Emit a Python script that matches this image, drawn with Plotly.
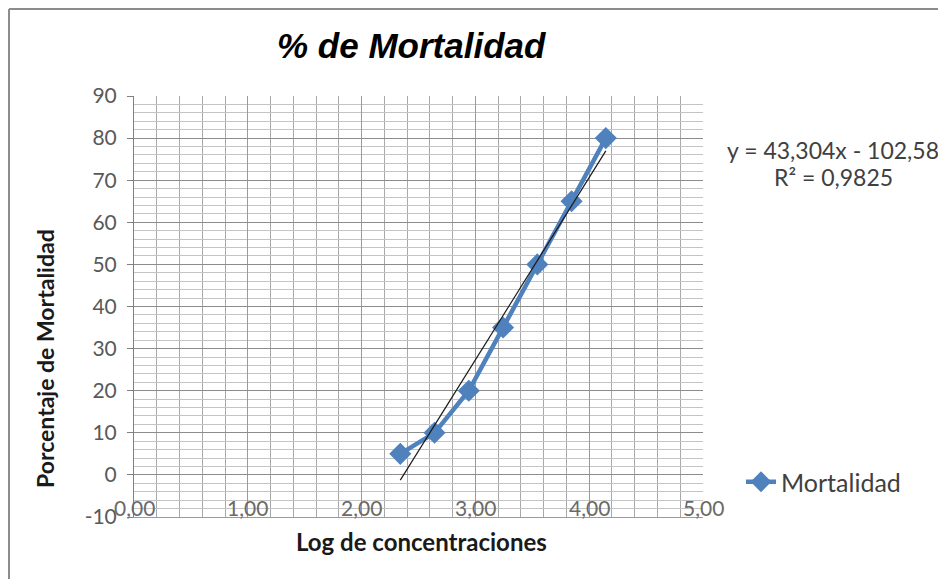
import numpy as np
import plotly.graph_objects as go

# Data
log_conc = [2.340, 2.641, 2.942, 3.243, 3.544, 3.845, 4.146]
mortalidad = [5, 10, 20, 35, 50, 65, 80]
x_ticks = [0, 1, 2, 3, 4, 5]
x_tick_labels = ["0,00", "1,00", "2,00", "3,00", "4,00", "5,00"]
y_ticks = [-10, 0, 10, 20, 30, 40, 50, 60, 70, 80, 90]
y_tick_labels = ["-10", "0", "10", "20", "30", "40", "50", "60", "70", "80", "90"]
equation_text = "y = 43,304x - 102,58"
r2_text = "R² = 0,9825"

blue = "#4F81BD"
font_family = "Lato, Open Sans, sans-serif"

slope, intercept = np.polyfit(log_conc, mortalidad, 1)
trend_x = [log_conc[0], log_conc[-1]]
trend_y = [slope * v + intercept for v in trend_x]

fig = go.Figure()
fig.add_trace(go.Scatter(
    x=log_conc, y=mortalidad, mode="lines+markers", name="Mortalidad",
    line=dict(color=blue, width=4.5),
    marker=dict(symbol="diamond", size=17, color=blue),
))
fig.add_trace(go.Scatter(
    x=trend_x, y=trend_y, mode="lines", showlegend=False,
    line=dict(color="#1a1a1a", width=1.2), hoverinfo="skip",
))

# page body adds an 8px margin; work in reference pixels minus that offset
OFF = 8
W, H = 946 - OFF, 579 - OFF
L, T = 134 - OFF, 96 - OFF
R, B = W - (703 - OFF), H - (517 - OFF)
pw, ph = W - L - R, H - T - B

def px(xp):
    return (xp - OFF - L) / pw

def py(yp):
    return (H - B - (yp - OFF)) / ph

def note(text, x, y, size, color, angle=0, family=None):
    f = dict(size=size, color=color)
    if family:
        f["family"] = family
    return dict(text=text, x=px(x), y=py(y), xref="paper", yref="paper",
                xanchor="center", yanchor="middle", showarrow=False,
                textangle=angle, font=f)

annotations = [
    note("<b><i>% de Mortalidad</i></b>", 411, 45, 35, "#000000",
         family="Liberation Sans, Arial, sans-serif"),
    note("<b>Porcentaje de Mortalidad</b>", 45, 359, 23, "#1a1a1a", angle=-90),
    note("<b>Log de concentraciones</b>", 421, 541, 24, "#1a1a1a"),
    note(equation_text, 833, 150, 23, "#404040"),
    note(r2_text, 833, 177, 23, "#404040"),
]
for tv, tl in zip(x_ticks, x_tick_labels):
    annotations.append(dict(
        text=tl, x=tv, y=y_ticks[0], xref="x", yref="y",
        xanchor="center", yanchor="bottom", yshift=-5, showarrow=False,
        font=dict(size=21, color="#6a6a6a")))

fig.update_layout(
    width=W, height=H,
    margin=dict(l=L, r=R, t=T, b=B, autoexpand=False),
    paper_bgcolor="white", plot_bgcolor="white",
    font=dict(family=font_family, color="#595959", size=20),
    showlegend=True,
    legend=dict(x=px(741), y=py(482), xanchor="left", yanchor="middle",
                font=dict(size=25, color="#404040"), bgcolor="rgba(0,0,0,0)"),
    xaxis=dict(
        range=[0, 5], tickvals=x_ticks, showticklabels=False,
        showgrid=True, gridcolor="#9a9a9a", gridwidth=1,
        minor=dict(dtick=0.2, showgrid=True, gridcolor="#a8a8a8", gridwidth=1),
        zeroline=False, showline=True, linecolor="#9a9a9a", ticks="",
    ),
    yaxis=dict(
        range=[-10, 90], tickvals=y_ticks, ticktext=y_tick_labels,
        showgrid=True, gridcolor="#8c8c8c", gridwidth=1,
        minor=dict(dtick=2, showgrid=True, gridcolor="#c4c4c4", gridwidth=1),
        zeroline=False, showline=True, linecolor="#808080",
        ticks="outside", ticklen=6, tickcolor="#808080",
        ticklabelstandoff=6,
        tickfont=dict(size=21, color="#595959"),
    ),
    annotations=annotations,
    shapes=[
        dict(type="line", xref="paper", yref="paper",
             x0=px(OFF + 1), x1=px(OFF + W), y0=py(OFF + 1), y1=py(OFF + 1),
             line=dict(color="#8c8c8c", width=2), layer="below"),
        dict(type="line", xref="paper", yref="paper",
             x0=px(OFF + 1), x1=px(OFF + 1), y0=py(OFF + 1), y1=py(OFF + H),
             line=dict(color="#8c8c8c", width=2), layer="below"),
    ],
)

fig.write_html("out.html")
